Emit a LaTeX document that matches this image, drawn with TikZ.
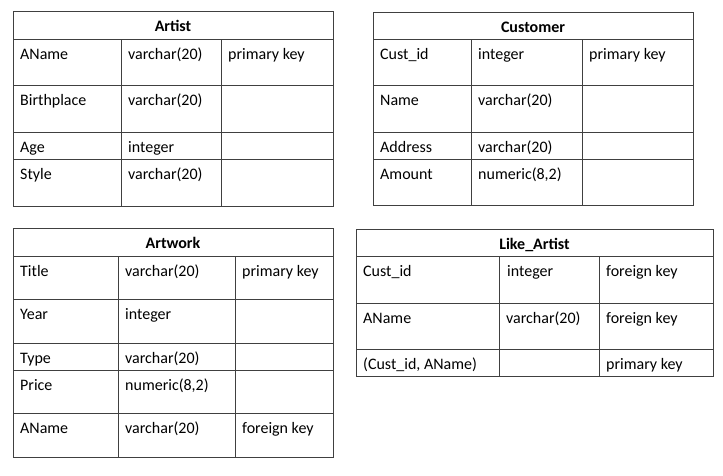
\documentclass[tikz,border=0pt]{standalone}
\usepackage{fontspec}
\setmainfont{Carlito}
\begin{document}
\begin{tikzpicture}[x=1pt,y=-1pt,
  grid/.style={draw=black!75,line width=1pt},
  cell/.style={anchor=base west,inner sep=0pt,font=\fontsize{16}{19}\selectfont},
  head/.style={anchor=base,inner sep=0pt,font=\fontsize{16}{19}\selectfont\bfseries}]
\useasboundingbox (0,0) rectangle (723,475);
% ---------- Artist
\draw[grid] (13,11) rectangle (333,206);
\foreach \y in {39,85,132,159} \draw[grid] (13,\y) -- (333,\y);
\foreach \x in {121,221} \draw[grid] (\x,39) -- (\x,206);
\node[head] (arT) at (173,31) {Artist};
\node[cell] (ar11) at (20,59) {AName};
\node[cell] (ar12) at (128,59) {varchar(20)};
\node[cell] (ar13) at (228,59) {primary key};
\node[cell] (ar21) at (20,105) {Birthplace};
\node[cell] (ar22) at (128,105) {varchar(20)};
\node[cell] (ar31) at (20,152) {Age};
\node[cell] (ar32) at (128,152) {integer};
\node[cell] (ar41) at (20,179) {Style};
\node[cell] (ar42) at (128,179) {varchar(20)};
% ---------- Customer
\draw[grid] (373,12) rectangle (693,205);
\foreach \y in {39,85,132,159} \draw[grid] (373,\y) -- (693,\y);
\foreach \x in {471,582} \draw[grid] (\x,39) -- (\x,205);
\node[head] (cuT) at (533,32) {Customer};
\node[cell] (cu11) at (380,59) {Cust\_id};
\node[cell] (cu12) at (478,59) {integer};
\node[cell] (cu13) at (589,59) {primary key};
\node[cell] (cu21) at (380,105) {Name};
\node[cell] (cu22) at (478,105) {varchar(20)};
\node[cell] (cu31) at (380,152) {Address};
\node[cell] (cu32) at (478,152) {varchar(20)};
\node[cell] (cu41) at (380,179) {Amount};
\node[cell] (cu42) at (478,179) {numeric(8,2)};
% ---------- Artwork
\draw[grid] (13,228) rectangle (333,457);
\foreach \y in {256,299,343,370,413} \draw[grid] (13,\y) -- (333,\y);
\foreach \x in {118,235} \draw[grid] (\x,256) -- (\x,457);
\node[head] (awT) at (173,248) {Artwork};
\node[cell] (aw11) at (20,276) {Title};
\node[cell] (aw12) at (125,276) {varchar(20)};
\node[cell] (aw13) at (242,276) {primary key};
\node[cell] (aw21) at (20,319) {Year};
\node[cell] (aw22) at (125,319) {integer};
\node[cell] (aw31) at (20,363) {Type};
\node[cell] (aw32) at (125,363) {varchar(20)};
\node[cell] (aw41) at (20,390) {Price};
\node[cell] (aw42) at (125,390) {numeric(8,2)};
\node[cell] (aw51) at (20,433) {AName};
\node[cell] (aw52) at (125,433) {varchar(20)};
\node[cell] (aw53) at (242,433) {foreign key};
% ---------- Like_Artist
\draw[grid] (356,229) rectangle (713,376);
\foreach \y in {256,303,349} \draw[grid] (356,\y) -- (713,\y);
\foreach \x in {499,599} \draw[grid] (\x,256) -- (\x,376);
\node[head] (laT) at (534.5,249) {Like\_Artist};
\node[cell] (la11) at (363,276) {Cust\_id};
\node[cell] (la12) at (507,276) {integer};
\node[cell] (la13) at (606,276) {foreign key};
\node[cell] (la21) at (363,323) {AName};
\node[cell] (la22) at (506,323) {varchar(20)};
\node[cell] (la23) at (606,323) {foreign key};
\node[cell] (la31) at (363,369) {(Cust\_id, AName)};
\node[cell] (la33) at (606,369) {primary key};
\end{tikzpicture}
\end{document}
